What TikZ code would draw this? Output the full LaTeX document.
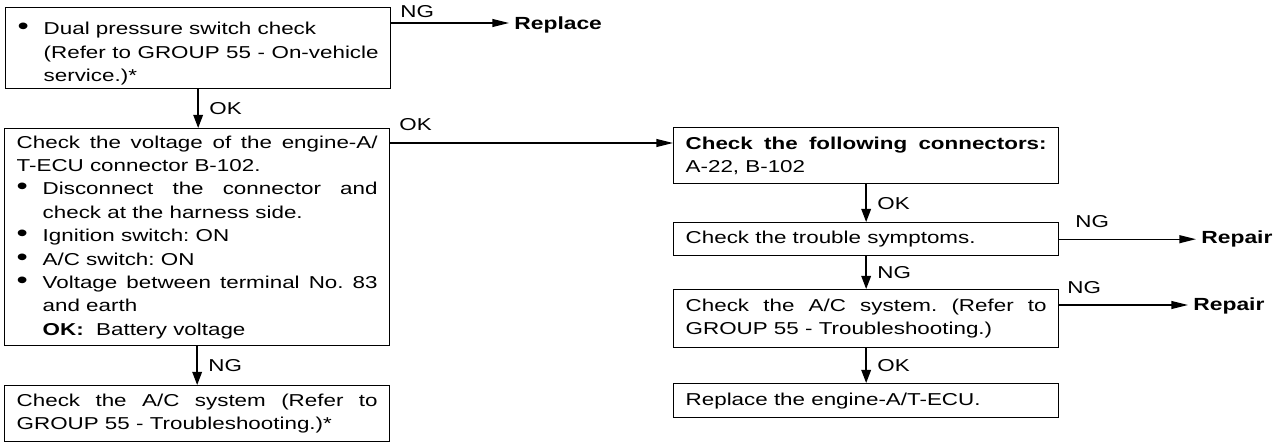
\documentclass[tikz,border=0pt]{standalone}
\usepackage{fontspec}
\setmainfont{Liberation Sans}[FakeStretch=1.3]
\usetikzlibrary{arrows.meta, positioning, calc}
\newcommand{\bdot}{{\fontsize{14}{14}\selectfont\textbullet}}
\newcommand{\itm}{\par\noindent\hangindent=14.8pt\hangafter=1\makebox[14.8pt][l]{\bdot}}
\newcommand{\nl}{\unskip\hfil\break}
\frenchspacing

\begin{document}
\begin{tikzpicture}[x=0.02cm, y=-0.02cm,
    blk/.style={draw, line width=0.8pt, anchor=north west, text width=7.22cm, inner xsep=0.24cm, inner ysep=1pt, align=justify, font=\fontsize{9.8}{13.3}\selectfont},
    lbl/.style={font=\fontsize{9.8}{12}\selectfont, inner sep=1pt},
    res/.style={anchor=west, inner xsep=0.1cm, inner ysep=0pt, font=\fontsize{10}{12}\selectfont\bfseries},
    harr/.style={line width=0.8pt, -{Triangle[length=9.5pt, width=4.5pt]}},
    varr/.style={line width=0.8pt, -{Triangle[length=7.5pt, width=5.5pt]}}
  ]
  \useasboundingbox (0,0) rectangle (1282,443);
  \node[blk, minimum height=1.62cm] (b1) at (5,7) {\itm Dual pressure switch check\nl (Refer to GROUP 55 - On-vehicle\linebreak service.)*\par};
  \node[blk, minimum height=4.34cm] (b2) at (4,128) {Check the voltage of the engine-A/\linebreak T-ECU connector B-102.
    \itm Disconnect the connector and check at the harness side.
    \itm Ignition switch: ON
    \itm A/C switch: ON
    \itm Voltage between terminal No. 83 and earth\nl \textbf{OK:}\ \ Battery voltage\par};
  \node[blk, minimum height=1.12cm] (b3) at (4,385) {Check the A/C system (Refer to GROUP 55 - Troubleshooting.)*};
  \node[blk, minimum height=1.12cm] (b4) at (673,127) {\textbf{Check the following connectors:}\linebreak A-22, B-102};
  \node[blk, minimum height=0.66cm] (b5) at (673,222) {Check the trouble symptoms.};
  \node[blk, minimum height=1.16cm] (b6) at (673,289) {Check the A/C system. (Refer to GROUP 55 - Troubleshooting.)};
  \node[blk, minimum height=0.68cm] (b7) at (673,383) {Replace the engine-A/T-ECU.};

  \node[res] (rep1) at (509,25) {Replace};
  \node[res] (rep2) at (1196,239) {Repair};
  \node[res] (rep3) at (1188,306) {Repair};

  \foreach \a/\b/\t in {b1/b2/OK, b2/b3/NG, b4/b5/OK, b5/b6/NG, b6/b7/OK}
    \draw[varr] (\a.south) -- (\a.south |- \b.north) node[lbl, midway, right=5pt] {\t};

  \coordinate (s1) at ($(b1.north east)+(0,16)$);
  \coordinate (s2) at ($(b2.north east)+(0,15)$);
  \coordinate (s6) at ($(b6.north east)+(0,16)$);
  \draw[harr] (s1) -- (s1 -| rep1.west);
  \draw[harr] (s2) -- (s2 -| b4.west);
  \draw[harr] (b5.east) -- (b5.east -| rep2.west);
  \draw[harr] (s6) -- (s6 -| rep3.west);

  \node[lbl, anchor=base west] (ng1) at ($(b1.north east)+(7,10)$) {NG};
  \node[lbl, anchor=base west] (ok2) at ($(b2.north east)+(7,2)$) {OK};
  \node[lbl, anchor=base west] (ng5) at ($(b5.north east)+(14,5)$) {NG};
  \node[lbl, anchor=base west] (ng6) at ($(b6.north east)+(6,4)$) {NG};
\end{tikzpicture}
\end{document}
